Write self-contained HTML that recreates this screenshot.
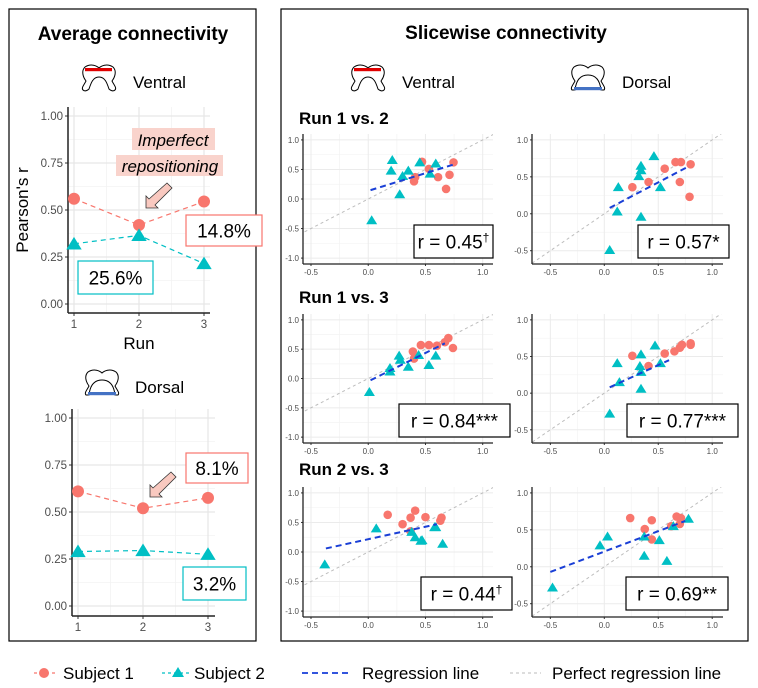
<!DOCTYPE html>
<html><head><meta charset="utf-8"><style>
html,body{margin:0;padding:0;background:#fff;}
svg{display:block;font-family:"Liberation Sans",Arial,sans-serif;}
</style></head><body>
<svg id="fig" width="758" height="688" viewBox="0 0 758 688" xmlns="http://www.w3.org/2000/svg">
<defs>
<g id="ventral-icon"><path d="M6,4 C12,0 18,3 20,5 C22,3 28,0 34,4 C38,8 36,14 33,18 C35,22 38,25 36,27 C34,29 31,27 30,26 C28,20 26,14 20,14 C14,14 12,20 10,26 C9,27 6,29 4,27 C2,25 5,22 7,18 C4,14 2,8 6,4 Z" fill="#fff" stroke="#000" stroke-width="1"/><rect x="6" y="5" width="27" height="3.2" fill="#e00000"/></g>
<g id="dorsal-icon"><path d="M6,4 C12,0 18,3 20,5 C22,3 28,0 34,4 C38,8 36,14 33,18 C35,22 38,25 36,27 L33,27 C32,18 28,12 20,12 C12,12 8,18 7,27 L4,27 C2,25 5,22 7,18 C4,14 2,8 6,4 Z" fill="#fff" stroke="#000" stroke-width="1"/><rect x="6" y="24" width="28" height="3.2" fill="#4472c4"/></g>
</defs>
<rect x="9" y="9" width="247" height="632" fill="none" stroke="#000" stroke-width="1.2"/>
<rect x="281" y="9" width="467" height="632" fill="none" stroke="#000" stroke-width="1.2"/>
<text x="133" y="40" text-anchor="middle" font-size="19" font-weight="bold">Average connectivity</text>
<text x="506" y="39" text-anchor="middle" font-size="19" font-weight="bold">Slicewise connectivity</text>
<use href="#ventral-icon" x="79" y="63"/>
<text x="133" y="88" font-size="17">Ventral</text>
<use href="#dorsal-icon" x="82" y="368"/>
<text x="135" y="393" font-size="17">Dorsal</text>
<use href="#ventral-icon" x="348" y="63"/>
<text x="402" y="88" font-size="17">Ventral</text>
<use href="#dorsal-icon" x="568" y="63"/>
<text x="622" y="88" font-size="17">Dorsal</text>
<text x="299" y="124" font-size="17" font-weight="bold">Run 1 vs. 2</text>
<text x="299" y="303" font-size="17" font-weight="bold">Run 1 vs. 3</text>
<text x="299" y="475" font-size="17" font-weight="bold">Run 2 vs. 3</text>
<text transform="translate(28,210) rotate(-90)" text-anchor="middle" font-size="17">Pearson's r</text>
<text x="139" y="349" text-anchor="middle" font-size="17">Run</text>
<g id="charts"></g>
<rect x="132" y="128" width="83" height="22" fill="#f9d3cc"/>
<rect x="116" y="155" width="107" height="21" fill="#f9d3cc"/>
<text x="173" y="146" text-anchor="middle" font-size="17" font-style="italic">Imperfect</text>
<text x="170" y="172" text-anchor="middle" font-size="17" font-style="italic">repositioning</text>
<path d="M167,183 L172,188 L155,205 L158,208 L146,208 L146,196 L149,199 Z" fill="#f9c9c0" stroke="#333" stroke-width="0.8"/>
<path d="M171,472 L176,477 L159,494 L162,497 L150,497 L150,485 L153,488 Z" fill="#f9c9c0" stroke="#333" stroke-width="0.8"/>
<g>
<line x1="34" y1="673" x2="56" y2="673" stroke="#F8766D" stroke-dasharray="3,3" stroke-width="1.2"/>
<circle cx="44" cy="673" r="5" fill="#F8766D"/>
<text x="63" y="679" font-size="17">Subject 1</text>
<line x1="162" y1="673" x2="192" y2="673" stroke="#00BFC4" stroke-dasharray="3,3" stroke-width="1.2"/>
<path d="M178,667 L184,677 L172,677 Z" fill="#00BFC4"/>
<text x="194" y="679" font-size="17">Subject 2</text>
<line x1="302" y1="673" x2="352" y2="673" stroke="#3355dd" stroke-width="2" stroke-dasharray="6,4"/>
<text x="362" y="679" font-size="17">Regression line</text>
<line x1="510" y1="673" x2="541" y2="673" stroke="#bbb" stroke-width="1" stroke-dasharray="3,3"/>
<text x="552" y="679" font-size="17">Perfect regression line</text>
</g>
</svg>
<script>
const runs = [1, 2, 3];
const ventralS1 = [0.56, 0.42, 0.545];
const ventralS2 = [0.32, 0.365, 0.215];
const dorsalS1 = [0.61, 0.52, 0.575];
const dorsalS2 = [0.29, 0.295, 0.275];
const lineTicks = [0, 0.25, 0.5, 0.75, 1.0];
const lineTickLabels = ["0.00", "0.25", "0.50", "0.75", "1.00"];

const xTicks = [-0.5, 0, 0.5, 1.0];
const xTickLabels = ["-0.5", "0.0", "0.5", "1.0"];
const ventralYTicks = [-1.0, -0.5, 0, 0.5, 1.0];
const ventralYLabels = ["-1.0", "-0.5", "0.0", "0.5", "1.0"];
const dorsalYTicks = [-0.5, 0, 0.5, 1.0];
const dorsalYLabels = ["-0.5", "0.0", "0.5", "1.0"];

const v12S1x = [0.47, 0.53, 0.41, 0.40, 0.61, 0.745, 0.71, 0.68];
const v12S1y = [0.63, 0.51, 0.37, 0.30, 0.37, 0.62, 0.41, 0.17];
const v12S2x = [0.21, 0.20, 0.30, 0.35, 0.45, 0.275, 0.54, 0.59, 0.03];
const v12S2y = [0.66, 0.48, 0.39, 0.48, 0.62, 0.08, 0.43, 0.60, -0.36];
const v12Reg = [0.02, 0.15, 0.74, 0.58];

const d12S1x = [0.26, 0.41, 0.56, 0.66, 0.71, 0.80, 0.70, 0.79];
const d12S1y = [0.36, 0.43, 0.61, 0.70, 0.70, 0.67, 0.43, 0.23];
const d12S2x = [0.46, 0.34, 0.34, 0.32, 0.13, 0.52, 0.12, 0.34, 0.05];
const d12S2y = [0.78, 0.65, 0.59, 0.51, 0.36, 0.36, 0.03, -0.04, -0.49];
const d12Reg = [0.05, 0.08, 0.78, 0.64];

const v13S1x = [0.39, 0.40, 0.46, 0.53, 0.60, 0.67, 0.70, 0.74];
const v13S1y = [0.46, 0.34, 0.57, 0.57, 0.56, 0.62, 0.69, 0.52];
const v13S2x = [0.27, 0.28, 0.19, 0.19, 0.35, 0.44, 0.53, 0.59, 0.01];
const v13S2y = [0.39, 0.32, 0.18, 0.12, 0.20, 0.40, 0.23, 0.39, -0.23];
const v13Reg = [0.02, -0.03, 0.67, 0.60];

const d13S1x = [0.26, 0.41, 0.56, 0.65, 0.70, 0.72, 0.80, 0.80];
const d13S1y = [0.51, 0.37, 0.54, 0.57, 0.62, 0.66, 0.66, 0.68];
const d13S2x = [0.47, 0.34, 0.12, 0.14, 0.33, 0.34, 0.52, 0.34, 0.05];
const d13S2y = [0.65, 0.53, 0.41, 0.15, 0.37, 0.29, 0.41, 0.06, -0.28];
const d13Reg = [0.05, 0.08, 0.60, 0.45];

const v23S1x = [0.17, 0.30, 0.37, 0.41, 0.50, 0.63, 0.64, 0.37];
const v23S1y = [0.63, 0.47, 0.58, 0.70, 0.59, 0.53, 0.58, 0.35];
const v23S2x = [0.07, 0.38, 0.41, 0.46, 0.58, 0.59, 0.65, -0.38, 0.47];
const v23S2y = [0.40, 0.34, 0.25, 0.19, 0.42, 0.42, 0.14, -0.21, 0.20];
const v23Reg = [-0.37, 0.06, 0.60, 0.47];

const d23S1x = [0.24, 0.375, 0.44, 0.44, 0.62, 0.67, 0.71, 0.70];
const d23S1y = [0.66, 0.51, 0.63, 0.37, 0.55, 0.68, 0.66, 0.58];
const d23S2x = [-0.04, 0.03, 0.37, 0.37, 0.51, 0.58, 0.64, 0.78, -0.48];
const d23S2y = [0.29, 0.41, 0.41, 0.15, 0.36, 0.08, 0.55, 0.65, -0.28];
const d23Reg = [-0.50, -0.07, 0.75, 0.62];

const rLabels = ["r = 0.45", "r = 0.57*", "r = 0.84***", "r = 0.77***", "r = 0.44", "r = 0.69**"];
const rSup = ["†", "", "", "", "†", ""];

const NS = "http://www.w3.org/2000/svg";
const root = document.getElementById("charts");
const RED = "#F8766D", TEAL = "#00BFC4";
function mk(tag, attrs, parent) {
  const e = document.createElementNS(NS, tag);
  for (const k in attrs) e.setAttribute(k, attrs[k]);
  (parent || root).appendChild(e);
  return e;
}
function tri(cx, cy, s, parent) {
  return mk("path", {d: `M${cx},${cy - s} L${cx + s * 1.1},${cy + s * 0.8} L${cx - s * 1.1},${cy + s * 0.8} Z`, fill: TEAL}, parent);
}

function lineChart(box, s1, s2, name) {
  const g = mk("g", {});
  
  
  const sx = v => box.x1 + (v - 1) / 2 * (box.x3 - box.x1);
  const sy = v => box.y0 - v * (box.y0 - box.y1);
  for (let i = 0; i < lineTicks.length - 1; i++) {
    const m = (lineTicks[i] + lineTicks[i + 1]) / 2;
    mk("line", {x1: box.left, x2: box.right, y1: sy(m), y2: sy(m), stroke: "#f3f3f3", "stroke-width": 0.8}, g);
  }
  [1.5, 2.5].forEach(m => mk("line", {x1: sx(m), x2: sx(m), y1: box.top, y2: box.bottom, stroke: "#f3f3f3", "stroke-width": 0.8}, g));
  lineTicks.forEach((t, i) => {
    mk("line", {x1: box.left, x2: box.right, y1: sy(t), y2: sy(t), stroke: "#e6e6e6", "stroke-width": 1.2}, g);
    mk("line", {x1: box.left - 3, x2: box.left, y1: sy(t), y2: sy(t), stroke: "#333"}, g);
    const tl = mk("text", {x: box.left - 5, y: sy(t) + 4, "text-anchor": "end", "font-size": 11.5, fill: "#4d4d4d"}, g);
    tl.textContent = lineTickLabels[i];
    
    
  });
  runs.forEach(r => {
    mk("line", {x1: sx(r), x2: sx(r), y1: box.top, y2: box.bottom, stroke: "#e6e6e6", "stroke-width": 1.2}, g);
    mk("line", {x1: sx(r), x2: sx(r), y1: box.bottom, y2: box.bottom + 3, stroke: "#333"}, g);
    const tl = mk("text", {x: sx(r), y: box.bottom + 15, "text-anchor": "middle", "font-size": 11.5, fill: "#4d4d4d"}, g);
    tl.textContent = String(r);
    
    
  });
  mk("line", {x1: box.left, x2: box.left, y1: box.top, y2: box.bottom, stroke: "#222", "stroke-width": 1.5}, g);
  mk("line", {x1: box.left, x2: box.right, y1: box.bottom, y2: box.bottom, stroke: "#222", "stroke-width": 1.5}, g);
  const p1 = runs.map((r, i) => `${sx(r)},${sy(s1[i])}`).join(" ");
  const p2 = runs.map((r, i) => `${sx(r)},${sy(s2[i])}`).join(" ");
  const l1 = mk("polyline", {points: p1, fill: "none", stroke: RED, "stroke-width": 1.2, "stroke-dasharray": "5,4"}, g);
  
  
  const l2 = mk("polyline", {points: p2, fill: "none", stroke: TEAL, "stroke-width": 1.2, "stroke-dasharray": "5,4"}, g);
  
  
  runs.forEach((r, i) => {
    const c = mk("circle", {cx: sx(r), cy: sy(s1[i]), r: 6, fill: RED}, g);
    
    
    const t = tri(sx(r), sy(s2[i]), 7, g);
    
    
  });
}
lineChart({left: 68, right: 210, top: 107, bottom: 313, x1: 74, x3: 204, y0: 304, y1: 116}, ventralS1, ventralS2, "ventral-line-chart");
lineChart({left: 72, right: 215, top: 409, bottom: 616, x1: 78, x3: 208, y0: 606, y1: 418}, dorsalS1, dorsalS2, "dorsal-line-chart");

function pctBox(x, y, w, h, color, label, name) {
  const r = mk("rect", {x: x, y: y, width: w, height: h, fill: "#fff", stroke: color, "stroke-width": 1.2});
  
  
  const t = mk("text", {x: x + w / 2, y: y + h / 2 + 7, "text-anchor": "middle", "font-size": 19});
  t.textContent = label;
  
  
}
pctBox(186, 215, 76, 31, RED, "14.8%", "ventral-subject-1-change");
pctBox(78, 261, 75, 33, TEAL, "25.6%", "ventral-subject-2-change");
pctBox(186, 453, 62, 30, RED, "8.1%", "dorsal-subject-1-change");
pctBox(183, 567, 63, 33, TEAL, "3.2%", "dorsal-subject-2-change");

let clipId = 0;
function scatter(p, s1x, s1y, s2x, s2y, reg, rLabel, sup, rBox, name) {
  const g = mk("g", {});
  
  
  const sx = v => p.left + (v - p.xd[0]) / (p.xd[1] - p.xd[0]) * (p.right - p.left);
  const sy = v => p.bottom - (v - p.yd[0]) / (p.yd[1] - p.yd[0]) * (p.bottom - p.top);
  const id = "clip" + (clipId++);
  const cp = mk("clipPath", {id: id}, g);
  mk("rect", {x: p.left, y: p.top, width: p.right - p.left, height: p.bottom - p.top}, cp);
  const gridY = p.yt.slice();
  for (let i = 0; i < gridY.length - 1; i++) {
    const m = (gridY[i] + gridY[i + 1]) / 2;
    mk("line", {x1: p.left, x2: p.right, y1: sy(m), y2: sy(m), stroke: "#f3f3f3", "stroke-width": 0.7}, g);
  }
  for (let i = 0; i < xTicks.length - 1; i++) {
    const m = (xTicks[i] + xTicks[i + 1]) / 2;
    mk("line", {x1: sx(m), x2: sx(m), y1: p.top, y2: p.bottom, stroke: "#f3f3f3", "stroke-width": 0.7}, g);
  }
  p.yt.forEach((t, i) => {
    mk("line", {x1: p.left, x2: p.right, y1: sy(t), y2: sy(t), stroke: "#ebebeb", "stroke-width": 1}, g);
    mk("line", {x1: p.left - 2, x2: p.left, y1: sy(t), y2: sy(t), stroke: "#333"}, g);
    const tl = mk("text", {x: p.left - 4, y: sy(t) + 3, "text-anchor": "end", "font-size": 8, fill: "#4d4d4d"}, g);
    tl.textContent = p.yl[i];
    
    
  });
  xTicks.forEach((t, i) => {
    mk("line", {x1: sx(t), x2: sx(t), y1: p.top, y2: p.bottom, stroke: "#ebebeb", "stroke-width": 1}, g);
    mk("line", {x1: sx(t), x2: sx(t), y1: p.bottom, y2: p.bottom + 2, stroke: "#333"}, g);
    const tl = mk("text", {x: sx(t), y: p.bottom + 11, "text-anchor": "middle", "font-size": 8, fill: "#4d4d4d"}, g);
    tl.textContent = xTickLabels[i];
    
    
  });
  const inner = mk("g", {"clip-path": `url(#${id})`}, g);
  const diag = mk("line", {x1: sx(-2), y1: sy(-2), x2: sx(2), y2: sy(2), stroke: "#bdbdbd", "stroke-width": 1, "stroke-dasharray": "3,3"}, inner);
  
  
  s1x.forEach((v, i) => {
    const c = mk("circle", {cx: sx(v), cy: sy(s1y[i]), r: 4.3, fill: RED}, g);
    
    
  });
  s2x.forEach((v, i) => {
    const t = tri(sx(v), sy(s2y[i]), 5, g);
    
    
  });
  const rl = mk("line", {x1: sx(reg[0]), y1: sy(reg[1]), x2: sx(reg[2]), y2: sy(reg[3]), stroke: "#1a3fd6", "stroke-width": 2, "stroke-dasharray": "6,4"}, g);
  
  
  mk("line", {x1: p.left, x2: p.left, y1: p.top, y2: p.bottom, stroke: "#222", "stroke-width": 1.3}, g);
  mk("line", {x1: p.left, x2: p.right, y1: p.bottom, y2: p.bottom, stroke: "#222", "stroke-width": 1.3}, g);
  const b = mk("rect", {x: rBox[0], y: rBox[1], width: rBox[2], height: rBox[3], fill: "#fff", stroke: "#000", "stroke-width": 1.2}, g);
  
  
  const t = mk("text", {x: rBox[0] + rBox[2] / 2, y: rBox[1] + rBox[3] / 2 + 7, "text-anchor": "middle", "font-size": 19}, g);
  
  
  const main = mk("tspan", {}, t);
  main.textContent = rLabel;
  if (sup) {
    const s = mk("tspan", {"font-size": 12, dy: -7}, t);
    s.textContent = sup;
  }
}
const vX = [-0.57, 1.09], dX = [-0.67, 1.1], vY = [-1.1, 1.1], dY = [-0.68, 1.08];
function vp(top, bottom) { return {left: 303, right: 493, top: top, bottom: bottom, xd: vX, yd: vY, yt: ventralYTicks, yl: ventralYLabels}; }
function dp(top, bottom) { return {left: 532, right: 723, top: top, bottom: bottom, xd: dX, yd: dY, yt: dorsalYTicks, yl: dorsalYLabels}; }
scatter(vp(134, 264), v12S1x, v12S1y, v12S2x, v12S2y, v12Reg, rLabels[0], rSup[0], [414, 225, 79, 33], "ventral-run-1-vs-2");
scatter(dp(134, 264), d12S1x, d12S1y, d12S2x, d12S2y, d12Reg, rLabels[1], rSup[1], [638, 225, 91, 33], "dorsal-run-1-vs-2");
scatter(vp(314, 443), v13S1x, v13S1y, v13S2x, v13S2y, v13Reg, rLabels[2], rSup[2], [399, 404, 111, 33], "ventral-run-1-vs-3");
scatter(dp(314, 443), d13S1x, d13S1y, d13S2x, d13S2y, d13Reg, rLabels[3], rSup[3], [627, 404, 111, 33], "dorsal-run-1-vs-3");
scatter(vp(487, 617), v23S1x, v23S1y, v23S2x, v23S2y, v23Reg, rLabels[4], rSup[4], [421, 577, 91, 33], "ventral-run-2-vs-3");
scatter(dp(487, 617), d23S1x, d23S1y, d23S2x, d23S2y, d23Reg, rLabels[5], rSup[5], [626, 577, 102, 33], "dorsal-run-2-vs-3");
</script>
</body></html>
